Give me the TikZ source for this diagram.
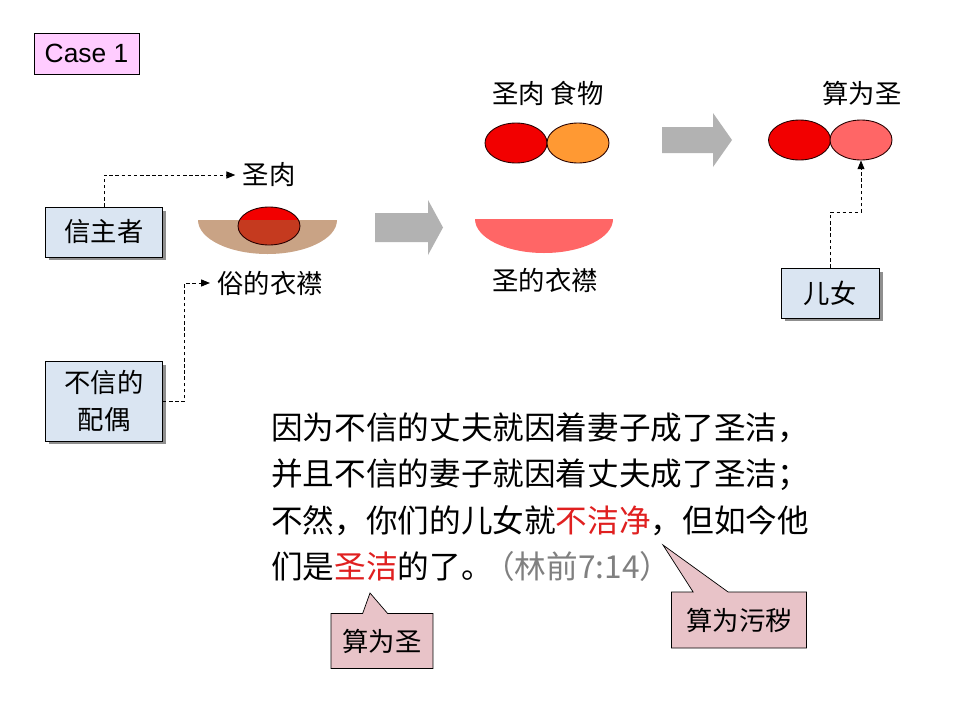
\documentclass[tikz,border=0pt]{standalone}
\usepackage{fontspec}
\setmainfont{Noto Sans CJK SC}
\newfontfamily\arialfont{Liberation Sans}
\usetikzlibrary{arrows.meta,shapes.geometric,shapes.callouts,shadows,positioning}
\definecolor{boxblue}{HTML}{DAE5F2}
\definecolor{casepink}{HTML}{FFCCFF}
\definecolor{notepink}{HTML}{E8C3C8}
\definecolor{meatred}{HTML}{F20000}
\definecolor{foodorange}{HTML}{FF9933}
\definecolor{holypink}{HTML}{FF6666}
\definecolor{clothtan}{HTML}{C9A385}
\definecolor{stainred}{HTML}{C53A1F}
\definecolor{arrowgray}{HTML}{B2B2B2}
\definecolor{verse}{HTML}{E02020}
\definecolor{refgray}{HTML}{808080}

\begin{document}
\begin{tikzpicture}[x=0.02cm, y=0.02cm,
    personbox/.style={draw=black, fill=boxblue, align=center, inner sep=0pt,
        minimum width=2.34cm, font=\fontsize{15}{21}\selectfont,
        drop shadow={shadow xshift=0.07cm, shadow yshift=-0.07cm, fill=black!55, opacity=0.8}},
    tag/.style={inner sep=4pt, font=\fontsize{15}{18}\selectfont},
    blob/.style={ellipse, draw=black!85!red, line width=0.5pt, inner sep=0pt,
        minimum width=1.24cm, minimum height=0.8cm},
    dasharrow/.style={dash pattern=on 2pt off 1.5pt, line width=0.5pt,
        -{Triangle[length=5pt, width=4pt]}},
    mainline/.style={anchor=base west, inner sep=0pt, font=\fontsize{18}{26}\selectfont},
    note/.style={rectangle callout, draw=black, fill=notepink, inner sep=0pt,
        font=\fontsize{15}{18}\selectfont}]
    \useasboundingbox (0,0) rectangle (960,-720);
    \fill[white] (0,0) rectangle (960,-720);

    % Case label
    \node[draw=black, fill=casepink, minimum width=2.1cm, minimum height=0.82cm,
        inner sep=0pt, font=\arialfont\fontsize{15}{18}\selectfont] (case) at (86.5,-53.5) {Case 1};

    % Common cloth with holy meat
    \fill[clothtan] (198,-220) arc[start angle=180, end angle=360, x radius=69.5, y radius=34] -- cycle;
    \fill[meatred] (269,-226) ellipse [x radius=31, y radius=19];
    \begin{scope}
        \clip (190,-220) rectangle (345,-262);
        \fill[stainred] (269,-226) ellipse [x radius=31, y radius=19];
    \end{scope}
    \draw[draw=black!85!red, line width=0.5pt] (269,-226) ellipse [x radius=31, y radius=19];
    \node[tag] (holymeat) at (269,-175) {圣肉};
    \node[tag] (common) at (270,-283) {俗的衣襟};

    % First arrow
    \fill[arrowgray] (375,-213) -- (428,-213) -- (428,-200) -- (443,-227.5)
        -- (428,-255) -- (428,-242) -- (375,-242) -- cycle;

    % Holy cloth
    \fill[holypink] (475,-219) arc[start angle=180, end angle=360, x radius=69, y radius=34] -- cycle;
    \node[tag] (holycloth) at (545,-280) {圣的衣襟};

    % Holy meat and food
    \node[tag] (meatfood) at (548,-93) {圣肉\ 食物};
    \node[blob, fill=meatred] (meat) at (516,-143) {};
    \node[blob, fill=foodorange] (food) at (578,-143) {};

    % Second arrow
    \fill[arrowgray] (662,-127) -- (713,-127) -- (713,-113) -- (732,-140)
        -- (713,-167) -- (713,-153) -- (662,-153) -- cycle;

    % Counted holy
    \node[tag] (counted) at (862,-93) {算为圣};
    \node[blob, fill=meatred] (meatright) at (799.5,-140) {};
    \node[blob, fill=holypink] (foodholy) at (861,-140) {};

    % People
    \node[personbox, minimum height=1cm] (believer) at (104,-232) {信主者};
    \node[personbox, minimum height=1.6cm] (spouse) at (104,-401) {不信的\\配偶};
    \node[personbox, minimum width=1.96cm, minimum height=1cm] (children) at (830,-293) {儿女};

    % Connectors
    \draw[dasharrow] (believer.north) |- (holymeat.west);
    \draw[dasharrow] (spouse.east) -- ++(22,0) |- (common.west);
    \draw[dasharrow] (children.north) -- ++(0,55) -| (foodholy.south);

    % Verse
    \node[mainline] (line1) at (271,-439) {因为不信的丈夫就因着妻子成了圣洁，};
    \node[mainline] (line2) at (271,-485) {并且不信的妻子就因着丈夫成了圣洁；};
    \node[mainline] (line3) at (271,-532) {不然，你们的儿女就\textcolor{verse}{不洁净}，但如今他};
    \node[mainline] (line4) at (271,-578) {们是\textcolor{verse}{圣洁}的了。\hspace{-0.3em}\textcolor{refgray}{（林前7:14）}};

    % Callouts
    \node[note, minimum width=2.04cm, minimum height=1.1cm, callout pointer width=0.5cm,
        callout absolute pointer={(370,-593)}] (holynote) at (382,-641) {算为圣};
    \node[note, minimum width=2.7cm, minimum height=1.12cm, callout pointer width=0.7cm,
        callout absolute pointer={(663,-545)}] (uncleannote) at (739,-620) {算为污秽};
\end{tikzpicture}
\end{document}
